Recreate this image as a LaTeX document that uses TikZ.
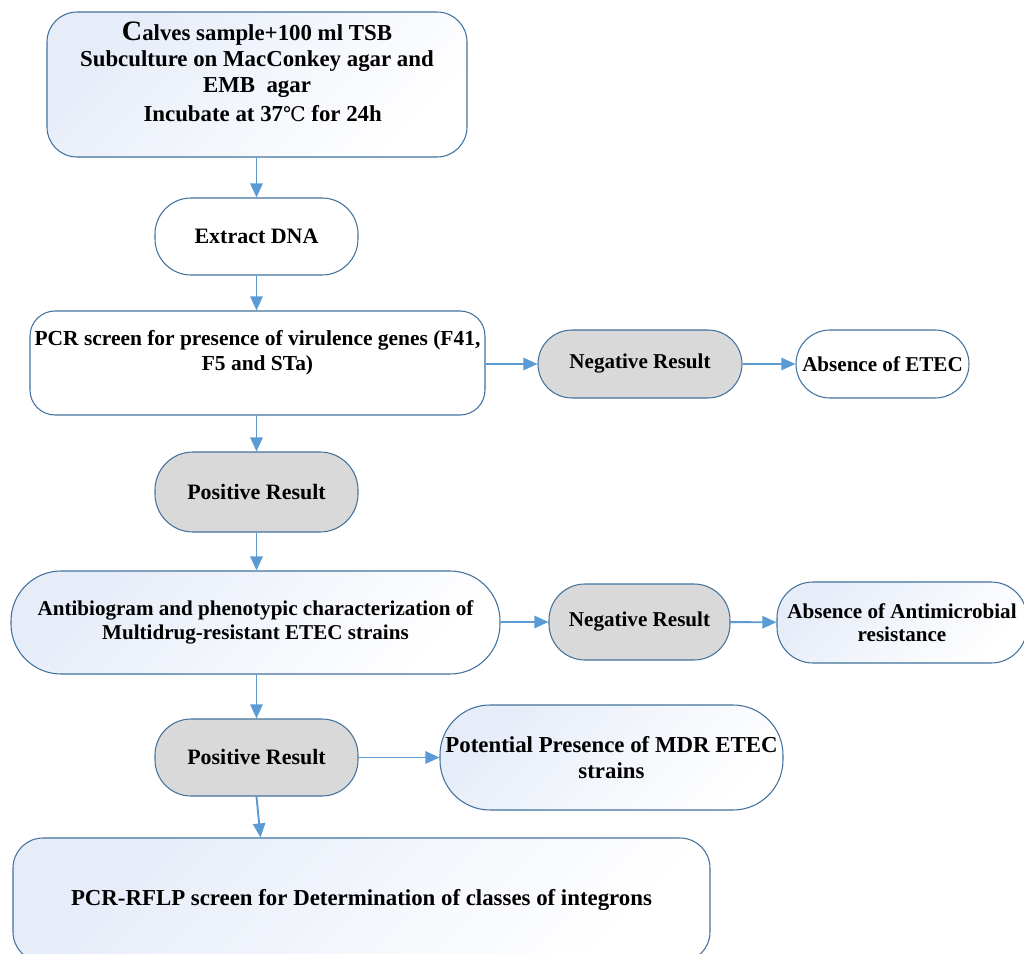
\documentclass[tikz,border=0pt]{standalone}
\usepackage{fontspec}
\setmainfont{Liberation Serif}
\newfontfamily\symfont{DejaVu Serif}
\usepackage{xcolor}
\usepackage{tikz}
\usetikzlibrary{calc, positioning, arrows.meta}

\definecolor{edgeblue}{RGB}{65,113,156}
\definecolor{flowblue}{RGB}{91,155,213}
\definecolor{gradblue}{RGB}{230,236,248}
\definecolor{resgrey}{RGB}{217,217,217}

\begin{document}
\begin{tikzpicture}
              [box/.style={draw=edgeblue, line width=0.6pt, align=center, font=\bfseries\fontsize{12.5}{14.5}\selectfont, inner sep=0pt},
               shadebox/.style={box, top color=gradblue, bottom color=white, shading angle=45},
               plainbox/.style={box, fill=white},
               greybox/.style={box, fill=resgrey},
               flow/.style={-{Triangle[length=8pt, width=7pt]}, draw=flowblue, fill=flowblue, line width=1.1pt}]
              \useasboundingbox (0,0) rectangle (20.48,-19.08);
              \clip (0,0) rectangle (20.48,-19.08);

              % nodes %
              \node[shadebox, minimum width=8.4cm, minimum height=2.9cm, rounded corners=0.6cm, font=\bfseries\fontsize{13}{14.7}\selectfont] (sample) at (5.14,-1.69)
                {{\fontsize{16}{16}\selectfont C}alves sample+100 ml TSB\\ Subculture on MacConkey agar and\\ EMB\ \ agar\\[2pt] \ \ Incubate at 37{\symfont\mdseries\fontsize{11.5}{11.5}\selectfont ℃} for 24h\\ \mbox{}};
              \node[plainbox, minimum width=4.06cm, minimum height=1.54cm, rounded corners=0.72cm] (dna) at (5.13,-4.73) {Extract DNA};
              \node[shadebox, top color=white, minimum width=9.1cm, minimum height=2.08cm, rounded corners=0.5cm, font=\bfseries\fontsize{12.2}{14.5}\selectfont] (pcr) at (5.15,-7.26)
                {PCR screen for presence of virulence genes (F41,\\ F5 and STa)\\ \mbox{}};
              \node[greybox, minimum width=4.08cm, minimum height=1.36cm, rounded corners=0.68cm, font=\bfseries\fontsize{12}{14}\selectfont] (neg1) at (12.8,-7.28) {Negative Result};
              \node[plainbox, minimum width=3.46cm, minimum height=1.36cm, rounded corners=0.68cm, font=\bfseries\fontsize{12}{14}\selectfont] (noetec) at (17.65,-7.28) {Absence of ETEC};
              \node[greybox, minimum width=4.06cm, minimum height=1.6cm, rounded corners=0.76cm] (pos1) at (5.13,-9.84) {Positive Result};
              \node[shadebox, minimum width=9.78cm, minimum height=2.06cm, rounded corners=1cm, font=\bfseries\fontsize{12}{13.6}\selectfont] (antib) at (5.11,-12.45)
                {Antibiogram and phenotypic characterization of\\ Multidrug-resistant ETEC strains};
              \node[greybox, minimum width=3.62cm, minimum height=1.52cm, rounded corners=0.72cm, font=\bfseries\fontsize{12}{14}\selectfont] (neg2) at (12.79,-12.44) {Negative Result};
              \node[shadebox, minimum width=5cm, minimum height=1.62cm, rounded corners=0.72cm, font=\bfseries\fontsize{12}{13.2}\selectfont] (noamr) at (18.04,-12.45)
                {Absence of Antimicrobial\\ resistance};
              \node[greybox, minimum width=4.06cm, minimum height=1.54cm, rounded corners=0.72cm] (pos2) at (5.13,-15.15) {Positive Result};
              \node[shadebox, minimum width=6.86cm, minimum height=2.1cm, rounded corners=1cm, font=\bfseries\fontsize{13}{14.5}\selectfont] (mdr) at (12.23,-15.15)
                {Potential Presence of MDR ETEC\\ strains};
              \node[shadebox, minimum width=13.94cm, minimum height=2.48cm, rounded corners=0.6cm, font=\bfseries\fontsize{13}{14.5}\selectfont] (rflp) at (7.23,-18.0)
                {PCR-RFLP screen for Determination of classes of integrons};

              % edges %
              \draw[flow] (sample.south -| dna.north) -- (dna);
              \draw[flow] (dna) -- (pcr.north -| dna.south);
              \draw[flow] (pcr.south -| dna.south) -- (pos1);
              \draw[flow] (pos1) -- (antib.north -| pos1.south);
              \draw[flow] (antib.south -| pos1.south) -- (pos2);
              \draw[flow] (pos2.south) -- ([xshift=0.08cm]pos2.south |- rflp.north);
              \draw[flow] (pcr.east |- neg1) -- (neg1);
              \draw[flow] (neg1) -- (noetec);
              \draw[flow] (antib.east |- neg2) -- (neg2);
              \draw[flow] (neg2) -- (noamr);
              \draw[flow] (pos2) -- (mdr);
            \end{tikzpicture}
\end{document}
